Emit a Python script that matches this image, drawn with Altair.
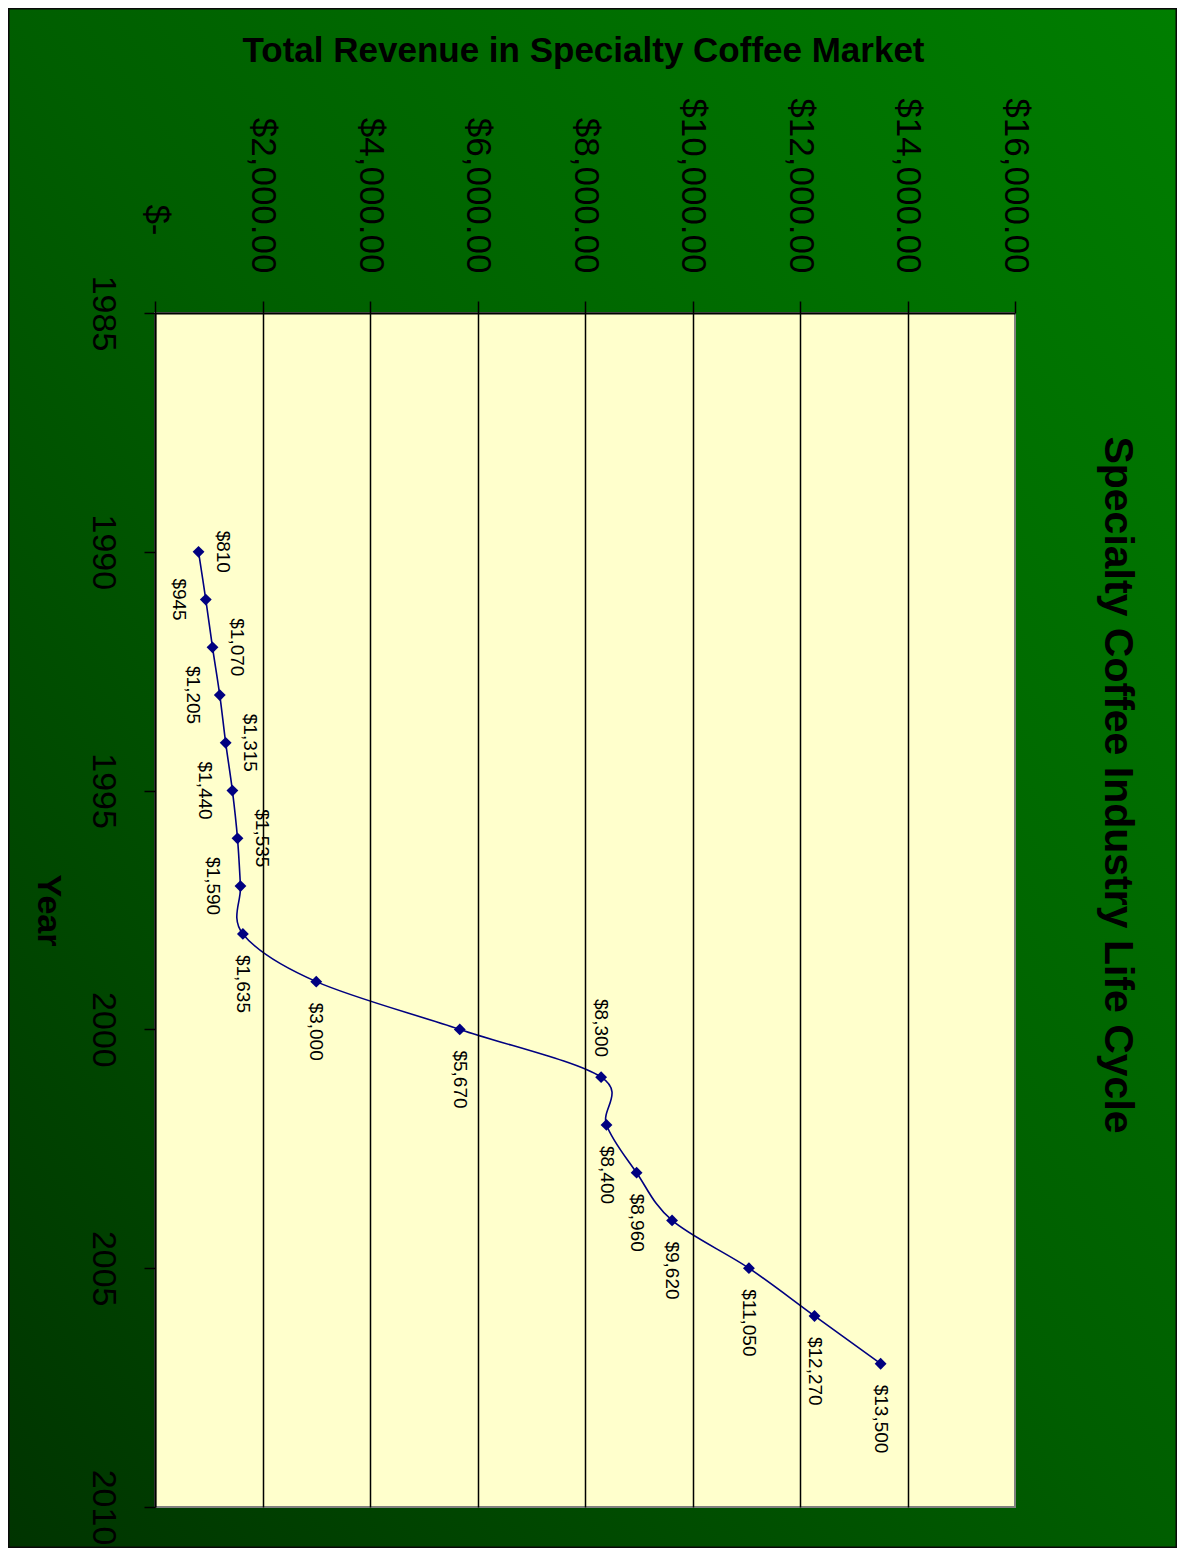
import altair as alt
import pandas as pd

# ---------------- data ----------------
years = [1990, 1991, 1992, 1993, 1994, 1995, 1996, 1997, 1998,
         1999, 2000, 2001, 2002, 2003, 2004, 2005, 2006, 2007]
revenue = [810, 945, 1070, 1205, 1315, 1440, 1535, 1590, 1635,
           3000, 5670, 8300, 8400, 8960, 9620, 11050, 12270, 13500]

year_ticks = [1985, 1990, 1995, 2000, 2005, 2010]
revenue_ticks = [0, 2000, 4000, 6000, 8000, 10000, 12000, 14000, 16000]

chart_title = "Specialty Coffee Industry Life Cycle"
x_title = "Total Revenue in Specialty Coffee Market"
y_title = "Year"

# label placement (style): r = right of point, l = left, b = below, a = above
label_side = ["r", "l", "r", "l", "r", "l", "r", "l", "b",
              "b", "b", "a", "b", "b", "b", "b", "b", "b"]

df = pd.DataFrame({"year": years, "revenue": revenue, "side": label_side})

FONT = "Liberation Sans"
NAVY = "#000080"

W, H = 860, 1194
PAD = {"left": 147, "top": 305, "right": 162, "bottom": 41}

x_enc = alt.X(
    "revenue:Q",
    scale=alt.Scale(domain=[0, 16000], nice=False, zero=True),
    axis=alt.Axis(
        orient="top",
        values=revenue_ticks,
        labelExpr="datum.value == 0 ? '$-' : '$' + format(datum.value, ',.2f')",
        labelAngle=90,
        labelAlign="right",
        labelBaseline="middle",
        labelFont=FONT,
        labelFontSize=35,
        labelColor="black",
        labelPadding={"condition": {"test": "datum.value == 0", "value": 66}, "value": 28},
        labelFlush=False,
        labelOverlap=False,
        tickSize=12,
        tickColor="black",
        tickWidth=1.5,
        domainColor="black",
        domainWidth=2,
        grid=True,
        gridColor="black",
        gridWidth=1.5,
        gridOpacity={"condition": {"test": "datum.value >= 16000", "value": 0}, "value": 1},
        title=x_title,
        titleFont=FONT,
        titleFontSize=35,
        titleFontWeight="bold",
        titleColor="black",
        titleAngle=0,
        titleAlign="center",
        titleBaseline="middle",
        titleX=428,
        titleY=-263,
        zindex=1,
    ),
)

y_enc = alt.Y(
    "year:Q",
    scale=alt.Scale(domain=[1985, 2010], nice=False, zero=False, reverse=True),
    axis=alt.Axis(
        orient="left",
        values=year_ticks,
        format="d",
        labelAngle=90,
        labelAlign="center",
        labelBaseline="top",
        labelFont=FONT,
        labelFontSize=34,
        labelColor="black",
        labelPadding=25,
        labelFlush=False,
        labelOverlap=False,
        tickSize=11,
        tickColor="black",
        tickWidth=1.5,
        domainColor="black",
        domainWidth=2,
        grid=False,
        title=y_title,
        titleFont=FONT,
        titleFontSize=34,
        titleFontWeight="bold",
        titleColor="black",
        titleAngle=90,
        titleAlign="center",
        titleBaseline="middle",
        titleX=-108,
        titleY=597,
        zindex=1,
    ),
)

one = alt.Data(values=[{}])

background = alt.Chart(one).mark_rect(
    fill=alt.LinearGradient(
        gradient="linear",
        stops=[alt.GradientStop(color="#007e00", offset=0),
               alt.GradientStop(color="#005e00", offset=0.5),
               alt.GradientStop(color="#003400", offset=1)],
        x1=1, y1=0, x2=0, y2=1,
    ),
    stroke="#0a0a0a",
    strokeWidth=3,
).encode(
    x=alt.value(-PAD["left"]), x2=alt.value(W + PAD["right"]),
    y=alt.value(-PAD["top"]), y2=alt.value(H + PAD["bottom"]),
)

plot_bg = alt.Chart(one).mark_rect(
    fill="#FFFFCC", stroke="#808080", strokeWidth=2
).encode(x=alt.value(0), x2=alt.value(W), y=alt.value(0), y2=alt.value(H))

base = alt.Chart(df)

line = base.mark_line(
    color=NAVY, strokeWidth=1.6, interpolate="cardinal", tension=0
).encode(x=x_enc, y=y_enc, order=alt.Order("year:Q"))

points = base.mark_point(
    shape="diamond", filled=True, color=NAVY, size=140, opacity=1
).encode(x=x_enc, y=y_enc)

side_style = {
    "r": dict(align="center", dx=0, dy=-24),
    "l": dict(align="center", dx=0, dy=27),
    "b": dict(align="left", dx=21, dy=0),
    "a": dict(align="right", dx=-20, dy=0),
}

label_layers = []
for s, st in side_style.items():
    label_layers.append(
        base.transform_filter(alt.datum.side == s).mark_text(
            angle=90, baseline="middle", font=FONT, fontSize=19, color="black", **st
        ).encode(x=x_enc, y=y_enc, text=alt.Text("revenue:Q", format="$,"))
    )

title_mark = alt.Chart(one).mark_text(
    text=chart_title, angle=90, font=FONT, fontSize=41, fontWeight="bold",
    color="black", align="center", baseline="middle",
).encode(x=alt.value(962), y=alt.value(472))

chart = alt.layer(
    background, plot_bg, line, points, *label_layers, title_mark
).properties(
    width=W, height=H, padding=PAD,
    autosize=alt.AutoSizeParams(type="none"),
).configure_view(stroke=None).configure(background="white")

chart.save("out.html", embed_options={"renderer": "svg", "actions": False})
